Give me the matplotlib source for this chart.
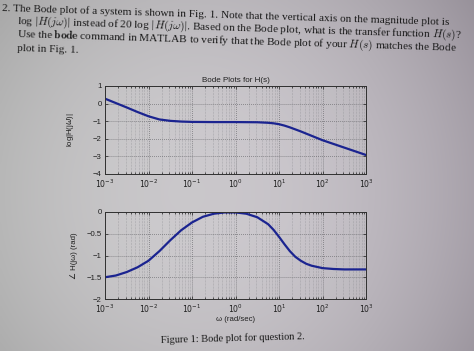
import numpy as np
import matplotlib
matplotlib.use("Agg")
import matplotlib.pyplot as plt
from matplotlib.ticker import FixedLocator, FuncFormatter, LogLocator, NullFormatter

# ---- data ----
mag_logw = [-3, -2.75, -2.5, -2.25, -2, -1.75, -1.5, -1.25, -1, -0.5, 0, 0.5, 0.75,
            0.875, 1, 1.125, 1.25, 1.5, 1.75, 2, 2.25, 2.5, 2.75, 3]
mag_val = [0.28, 0.03, -0.22, -0.48, -0.72, -0.9, -0.98, -1.02, -1.04, -1.05, -1.05,
           -1.06, -1.09, -1.12, -1.17, -1.25, -1.35, -1.58, -1.83, -2.08, -2.29, -2.5,
           -2.71, -2.92]

ph_logw = [-3, -2.75, -2.5, -2.25, -2, -1.75, -1.5, -1.25, -1, -0.75, -0.5, -0.25, 0,
           0.25, 0.5, 0.75, 0.875, 1, 1.125, 1.25, 1.375, 1.5, 1.625, 1.75, 2, 2.25,
           2.5, 3]
ph_val = [-1.5, -1.46, -1.38, -1.27, -1.12, -0.9, -0.65, -0.42, -0.24, -0.11, -0.04,
          -0.01, -0.01, -0.04, -0.12, -0.28, -0.41, -0.57, -0.74, -0.9, -1.03, -1.12,
          -1.19, -1.235, -1.29, -1.31, -1.32, -1.32]

x_ticks = [1e-3, 1e-2, 1e-1, 1e0, 1e1, 1e2, 1e3]
mag_ticks = [-4, -3, -2, -1, 0, 1]
ph_ticks = [-2, -1.5, -1, -0.5, 0]

para_lines = [
    r"2. The Bode plot of a system is shown in Fig. 1. Note that the vertical axis on the magnitude plot is",
    r"log $|H(j\omega)|$ instead of 20 log $|H(j\omega)|$. Based on the Bode plot, what is the transfer function $H(s)$?",
    r"Use the $\mathbf{bode}$ command in MATLAB to verify that the Bode plot of your $H(s)$ matches the Bode",
    r"plot in Fig. 1.",
]
caption = "Figure 1: Bode plot for question 2."

# ---- style ----
W, H = 474, 351
bg = "#c2c1c5"
line_col = "#1b2490"
txt_col = "#1a1a1a"
sans = ["Liberation Sans", "DejaVu Sans"]
serif = ["Liberation Serif", "DejaVu Serif"]

plt.rcParams["font.family"] = sans
plt.rcParams["mathtext.fontset"] = "dejavusans"

fig = plt.figure(figsize=(W / 100, H / 100), dpi=100, facecolor=bg)

# photographic paper shading (background only)
bgax = fig.add_axes([0, 0, 1, 1], zorder=-10)
gx = np.linspace(0, 1, 200)[None, :]
gy = np.linspace(0, 1, 150)[:, None]
light = 0.80 - 0.10 * (gx - 0.45) ** 2 * 4 - 0.05 * (gy - 0.55) ** 2 * 4
r = light - 0.02 * gx
g = light - 0.045 * gx
b = light - 0.01 * gx
bgax.imshow(np.dstack([r, g, b]).clip(0, 1), aspect="auto", extent=[0, 1, 0, 1],
            interpolation="bilinear")
bgax.axis("off")

def fx(px):
    return px / W

def fy(py):
    return 1 - py / H

ax1 = fig.add_axes([fx(105), fy(174), fx(261), 88 / H])
ax2 = fig.add_axes([fx(105), fy(299), fx(261), 87 / H])

w_mag = 10.0 ** np.array(mag_logw)
w_ph = 10.0 ** np.array(ph_logw)
ax1.plot(w_mag, mag_val, color=line_col, lw=1.6, solid_capstyle="round",
         solid_joinstyle="round")
ax2.plot(w_ph, ph_val, color=line_col, lw=1.6, solid_capstyle="round",
         solid_joinstyle="round")

def num_fmt(v, pos):
    s = "%g" % v
    return s.replace("-", "\u2212")

def pow_fmt(v, pos):
    e = int(round(np.log10(v)))
    return r"$10^{%d}$" % e

for ax, yt, ylim in [(ax1, mag_ticks, (-4, 1)), (ax2, ph_ticks, (-2, 0))]:
    ax.set_facecolor((1, 1, 1, 0.06))
    ax.set_xscale("log")
    ax.set_xlim(1e-3, 1e3)
    ax.set_ylim(*ylim)
    ax.xaxis.set_major_locator(FixedLocator(x_ticks))
    ax.xaxis.set_minor_locator(LogLocator(base=10, subs=np.arange(2, 10), numticks=20))
    ax.xaxis.set_minor_formatter(NullFormatter())
    ax.xaxis.set_major_formatter(FuncFormatter(pow_fmt))
    ax.yaxis.set_major_locator(FixedLocator(yt))
    ax.yaxis.set_major_formatter(FuncFormatter(num_fmt))
    ax.grid(True, which="major", ls=":", lw=0.55, color="#66666a")
    ax.grid(True, which="minor", axis="x", ls=":", lw=0.4, color="#8a8a8f")
    ax.tick_params(which="both", direction="in", top=True, right=True,
                   labelsize=5.6, colors="#202020", width=0.5)
    ax.tick_params(which="major", length=2.5, pad=2.5)
    ax.tick_params(which="minor", length=1.3)
    for sp in ax.spines.values():
        sp.set_color("#303030")
        sp.set_linewidth(0.7)

ax1.set_title("Bode Plots for H(s)", fontsize=5.8, pad=3, color="#202020")
ax1.set_ylabel(r"log|H(j$\omega$)|", fontsize=5.6, color="#202020")
ax1.yaxis.set_label_coords(-0.11, 0.5)
ax2.set_ylabel("\u2220 H(j\u03c9) (rad)", fontsize=5.6, color="#202020", family=sans)
ax2.yaxis.set_label_coords(-0.105, 0.5)
ax2.set_xlabel("\u03c9 (rad/sec)", fontsize=5.6, color="#202020", labelpad=1)

# ---- paragraph text (photo is slightly rotated) ----
renderer = fig.canvas.get_renderer()
probe = fig.text(0, 0, para_lines[0], family=serif, fontsize=10, math_fontfamily="cm")
wpx = probe.get_window_extent(renderer).width
probe.remove()
para_size = 10 * 445 / wpx

starts = [(2, 11), (17, 24), (17, 37), (17, 51)]
for (x0, y0), txt in zip(starts, para_lines):
    fig.text(fx(x0), fy(y0), txt, family=serif, fontsize=para_size,
             math_fontfamily="cm", color=txt_col, ha="left", va="baseline",
             rotation=-1.8, rotation_mode="anchor")

probe = fig.text(0, 0, caption, family=serif, fontsize=10)
cw = probe.get_window_extent(renderer).width
probe.remove()
fig.text(fx(233), fy(341), caption, family=serif, fontsize=10 * 143 / cw,
         color=txt_col, ha="center", va="baseline", rotation=1.5,
         rotation_mode="anchor")

fig.savefig("out.png", dpi=100, facecolor=bg)
